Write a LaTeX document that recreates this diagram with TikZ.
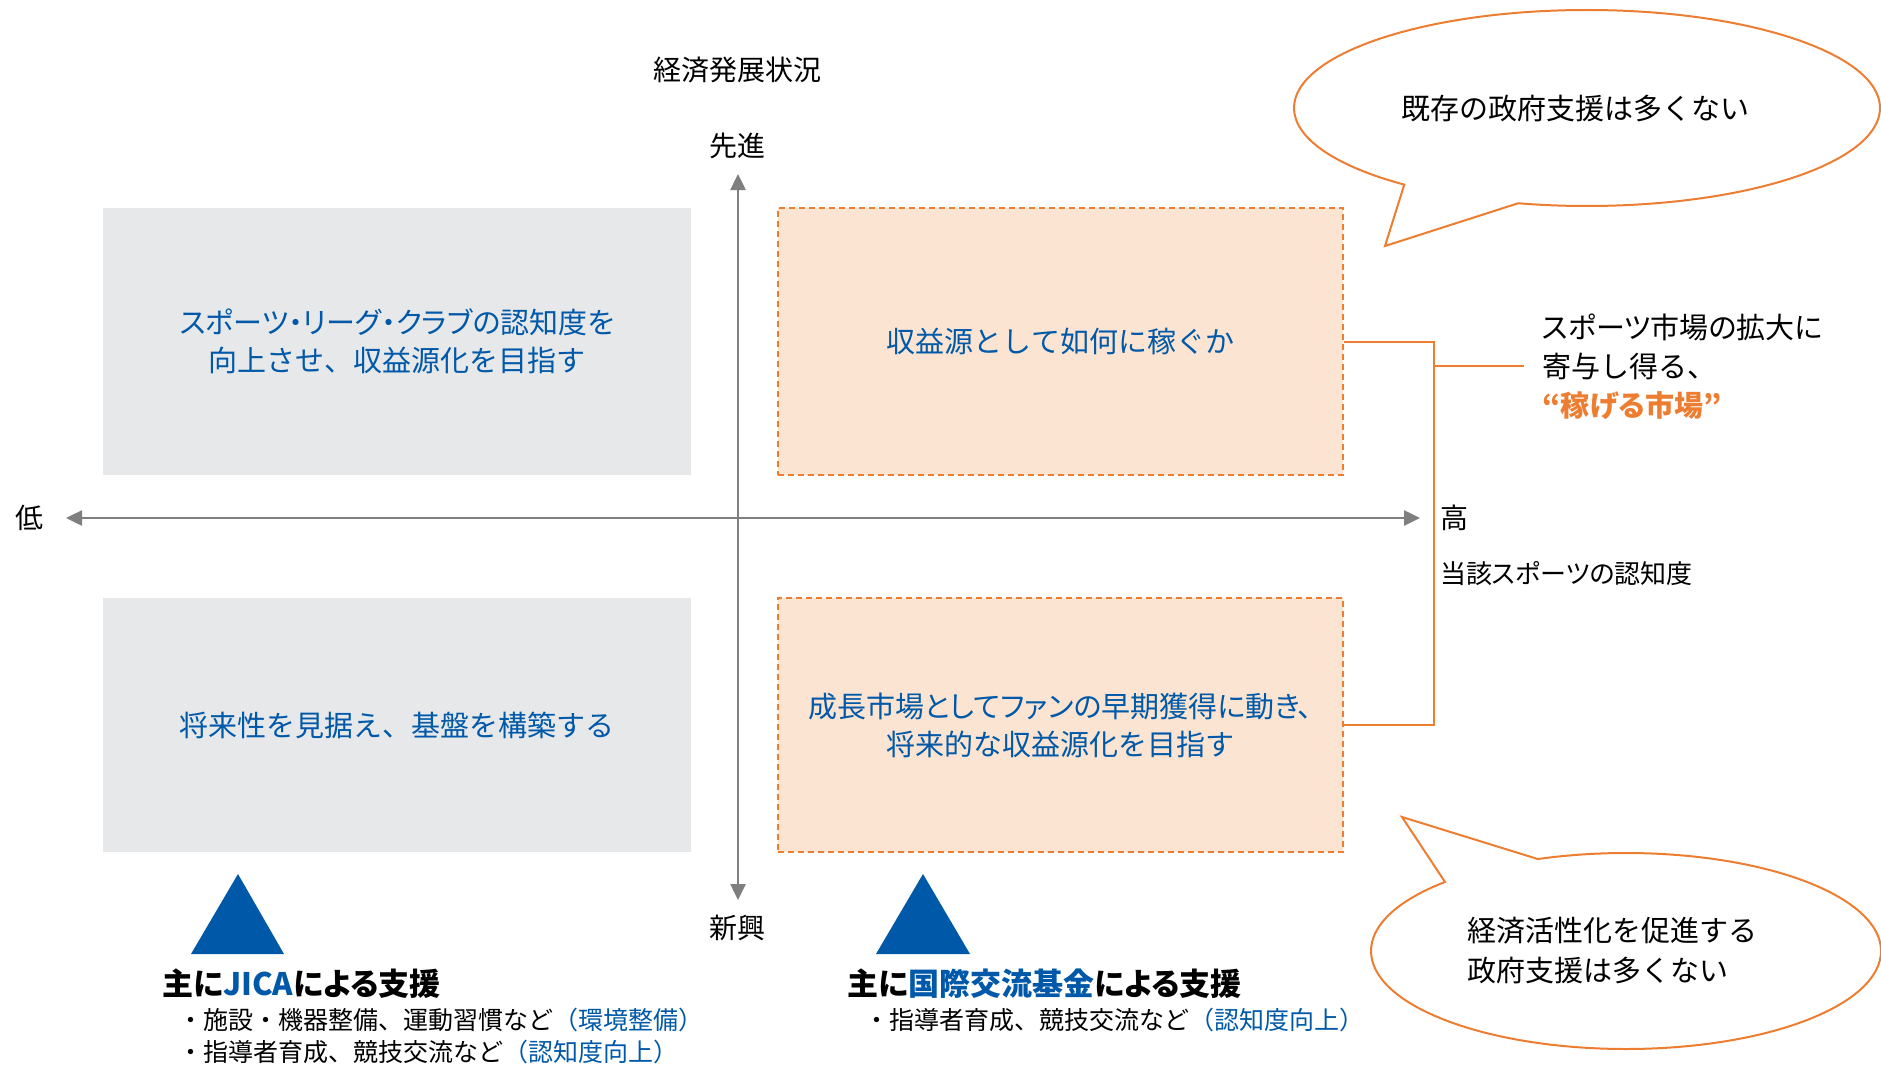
\documentclass[tikz,border=0pt]{standalone}
\usepackage{fontspec}
\setmainfont{Noto Sans CJK JP}
\newfontfamily\kana{Noto Sans CJK JP}[RawFeature=+palt]
\usetikzlibrary{arrows.meta,shapes.callouts,positioning}
\definecolor{jfBlue}{RGB}{0,88,168}
\definecolor{jfOrange}{RGB}{237,125,49}
\definecolor{jfPeach}{RGB}{251,229,210}
\definecolor{jfGray}{RGB}{231,232,234}
\definecolor{jfAxis}{RGB}{127,127,127}

\begin{document}
\begin{tikzpicture}[x=1pt,y=-1pt,
  quad/.style={inner sep=0pt, align=center, text=jfBlue, font=\fontsize{29}{38}\selectfont},
  graybox/.style={quad, fill=jfGray},
  peachbox/.style={quad, fill=jfPeach, draw=jfOrange, line width=1.6pt, dash pattern=on 6pt off 4pt},
  lbl/.style={inner sep=0pt, font=\fontsize{28}{38}\selectfont},
  bubble/.style={ellipse callout, draw=jfOrange, line width=2pt, callout pointer arc=25, inner sep=0pt, align=left, font=\fontsize{29}{40}\selectfont},
  axis/.style={color=jfAxis, line width=2.5pt, {Triangle[length=16pt,width=15pt]}-{Triangle[length=16pt,width=15pt]}},
  bracket/.style={draw=jfOrange, line width=2pt}
]
\useasboundingbox (0,0) rectangle (1881,1065);

% quadrants
\node[graybox, minimum width=588pt, minimum height=267pt] (tl) at (397,341.5) {{\kana スポーツ・リーグ・クラブの認知度を}\\向上させ、収益源化を目指す};
\node[peachbox, minimum width=565pt, minimum height=267pt] (tr) at (1060.5,341.5) {収益源として如何に稼ぐか};
\node[graybox, minimum width=588pt, minimum height=254pt] (bl) at (397,725) {将来性を見据え、基盤を構築する};
\node[peachbox, minimum width=565pt, minimum height=254pt] (br) at (1060.5,725) {{\kana 成長市場としてファンの早期獲得に動き、}\\将来的な収益源化を目指す};

% axes
\coordinate (top) at (738,174);
\coordinate (bot) at (738,900);
\coordinate (lft) at (66,518);
\coordinate (rgt) at (1420,518);
\draw[axis] (bot) -- (top);
\draw[axis] (lft) -- (rgt);

\node[lbl] (econ) at (737,70) {経済発展状況};
\node[lbl] (adv) at (737,146) {先進};
\node[lbl] (emg) at (737,928) {新興};
\node[lbl] (low) at (30,518) {低};
\node[lbl, anchor=west] (high) at (1440,518) {高};
\node[lbl, anchor=west, font=\kana\fontsize{26}{38}\selectfont] (aware) at (1440,574) {当該スポーツの認知度};

% bracket to the right
\coordinate (brk) at (1434,366);
\coordinate (brkend) at (1524,366);
\draw[bracket] (tr.east) -| (brk) |- (br.east);
\draw[bracket] (brk) -- (brkend);
\node[lbl, anchor=west, align=left, font=\fontsize{29}{39}\selectfont] (mkt) at (1542,367) {{\kana スポーツ市場の拡大に}\\寄与し得る、\\\textcolor{jfOrange}{\kana\bfseries “稼げる市場”}};

% speech bubbles
\node[bubble, minimum width=586pt, minimum height=196pt, callout absolute pointer={(1385,246)}] (gov1) at (1587,108) {既存の政府支援は多くない\hspace*{24pt}};
\node[bubble, minimum width=510pt, minimum height=196pt, callout absolute pointer={(1402,817)}] (gov2) at (1626,951) {経済活性化を促進する\hspace*{28pt}\\政府支援は多くない};

% support
\fill[jfBlue] (238,874) -- (284,954) -- (191,954) -- cycle;
\fill[jfBlue] (923,874) -- (970,954) -- (876,954) -- cycle;
\node[lbl, anchor=west, font=\kana\bfseries\fontsize{31}{38}\selectfont] (jica) at (162,984) {主に\textcolor{jfBlue}{JICA}による支援};
\node[lbl, anchor=west, align=left, font=\fontsize{25}{32}\selectfont] (jicaitems) at (178,1036) {・施設・機器整備、運動習慣など\textcolor{jfBlue}{（環境整備）}\\・指導者育成、競技交流など\textcolor{jfBlue}{（認知度向上）}};
\node[lbl, anchor=west, font=\kana\bfseries\fontsize{31}{38}\selectfont] (jf) at (847,984) {主に\textcolor{jfBlue}{国際交流基金}による支援};
\node[lbl, anchor=west, font=\fontsize{25}{32}\selectfont] (jfitems) at (864,1020) {・指導者育成、競技交流など\textcolor{jfBlue}{（認知度向上）}};
\end{tikzpicture}
\end{document}
